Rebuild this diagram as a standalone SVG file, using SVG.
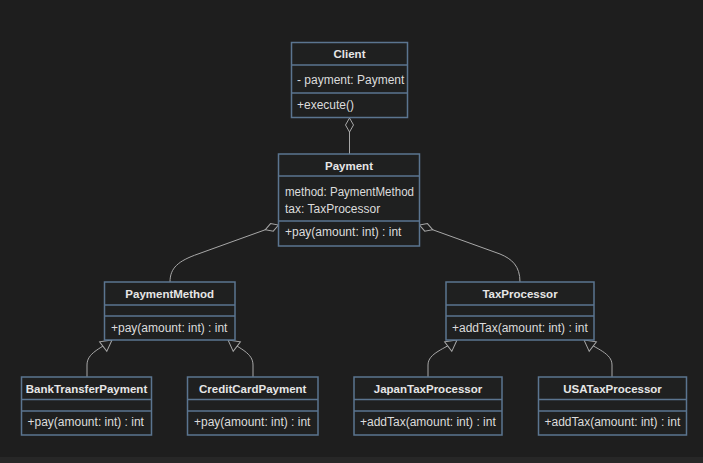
<svg xmlns="http://www.w3.org/2000/svg" width="703" height="463" viewBox="0 0 703 463">
<style>
.box{fill:#1f2020;stroke:#5b7590;stroke-width:1.5}
.div{stroke:#5b7590;stroke-width:1.5}
.t{font-family:"Liberation Sans",Arial,sans-serif;font-size:12px;fill:#dcdcdc}
.h{font-family:"Liberation Sans",Arial,sans-serif;font-size:11.5px;font-weight:bold;fill:#e6e6e6;text-anchor:middle}
.e{fill:none;stroke:#a8a8a8;stroke-width:1}
</style>
<defs>
<marker id="dia" viewBox="-1 -1 16 12" refX="0" refY="5" markerWidth="16" markerHeight="12" markerUnits="userSpaceOnUse" orient="auto">
<path d="M0,5 L7,1 L14,5 L7,9 Z" fill="#1e1e1e" stroke="#a8a8a8" stroke-width="1"/>
</marker>
<marker id="tri" viewBox="-1 -1 14 14" refX="0" refY="6" markerWidth="14" markerHeight="14" markerUnits="userSpaceOnUse" orient="auto">
<path d="M0,6 L11,0 L11,12 Z" fill="#1e1e1e" stroke="#a8a8a8" stroke-width="1"/>
</marker>
</defs>
<rect width="703" height="463" fill="#1e1e1e"/>
<rect y="457" width="703" height="6" fill="#272727"/>
<g id="connectors">
<path class="e" d="M349.5,118 L349.5,154" marker-start="url(#dia)"/>
<path class="e" d="M278.5,225 L198,254 C178,261 170,268 170,282" marker-start="url(#dia)"/>
<path class="e" d="M419.5,225 L500,254 C512,259 520,266 520,282" marker-start="url(#dia)"/>
<path class="e" d="M112,340 C100,349 87,353 87,365 L87,377" marker-start="url(#tri)"/>
<path class="e" d="M228,340 C240,349 253,353 253,365 L253,377" marker-start="url(#tri)"/>
<path class="e" d="M457,340 C445,349 428,353 428,365 L428,377" marker-start="url(#tri)"/>
<path class="e" d="M584,340 C596,349 612,353 612,365 L612,377" marker-start="url(#tri)"/>
</g>
<g id="Client">
<rect class="box" x="291.5" y="42.5" width="116" height="75"/>
<line class="div" x1="291.5" y1="65" x2="407.5" y2="65"/>
<line class="div" x1="291.5" y1="93" x2="407.5" y2="93"/>
<text class="h" x="349.5" y="58">Client</text>
<text class="t" x="297" y="84">- payment: Payment</text>
<text class="t" x="297" y="109">+execute()</text>
</g>
<g id="Payment">
<rect class="box" x="278.5" y="154" width="141" height="92"/>
<line class="div" x1="278.5" y1="176" x2="419.5" y2="176"/>
<line class="div" x1="278.5" y1="221" x2="419.5" y2="221"/>
<text class="h" x="349" y="170">Payment</text>
<text class="t" x="285" y="196" textLength="129" lengthAdjust="spacingAndGlyphs">method: PaymentMethod</text>
<text class="t" x="285" y="212.5">tax: TaxProcessor</text>
<text class="t" x="285" y="236">+pay(amount: int) : int</text>
</g>
<g id="PaymentMethod">
<rect class="box" x="104.5" y="282" width="130.5" height="58"/>
<line class="div" x1="104.5" y1="305" x2="235" y2="305"/>
<line class="div" x1="104.5" y1="316" x2="235" y2="316"/>
<text class="h" x="169.75" y="297.5">PaymentMethod</text>
<text class="t" x="111" y="332">+pay(amount: int) : int</text>
</g>
<g id="TaxProcessor">
<rect class="box" x="446" y="282" width="148" height="58"/>
<line class="div" x1="446" y1="305" x2="594" y2="305"/>
<line class="div" x1="446" y1="316" x2="594" y2="316"/>
<text class="h" x="520" y="297.5">TaxProcessor</text>
<text class="t" x="452" y="332">+addTax(amount: int) : int</text>
</g>
<g id="BankTransferPayment">
<rect class="box" x="21.5" y="377" width="130" height="58"/>
<line class="div" x1="21.5" y1="399.5" x2="151.5" y2="399.5"/>
<line class="div" x1="21.5" y1="411" x2="151.5" y2="411"/>
<text class="h" x="86.5" y="392.5">BankTransferPayment</text>
<text class="t" x="27.5" y="426">+pay(amount: int) : int</text>
</g>
<g id="CreditCardPayment">
<rect class="box" x="187.5" y="377" width="130.5" height="58"/>
<line class="div" x1="187.5" y1="399.5" x2="318" y2="399.5"/>
<line class="div" x1="187.5" y1="411" x2="318" y2="411"/>
<text class="h" x="252.75" y="392.5">CreditCardPayment</text>
<text class="t" x="194" y="426">+pay(amount: int) : int</text>
</g>
<g id="JapanTaxProcessor">
<rect class="box" x="354" y="377" width="148" height="58"/>
<line class="div" x1="354" y1="399.5" x2="502" y2="399.5"/>
<line class="div" x1="354" y1="411" x2="502" y2="411"/>
<text class="h" x="428" y="392.5">JapanTaxProcessor</text>
<text class="t" x="360" y="426">+addTax(amount: int) : int</text>
</g>
<g id="USATaxProcessor">
<rect class="box" x="538.5" y="377" width="148" height="58"/>
<line class="div" x1="538.5" y1="399.5" x2="686.5" y2="399.5"/>
<line class="div" x1="538.5" y1="411" x2="686.5" y2="411"/>
<text class="h" x="612.5" y="392.5">USATaxProcessor</text>
<text class="t" x="544.5" y="426">+addTax(amount: int) : int</text>
</g>
</svg>
